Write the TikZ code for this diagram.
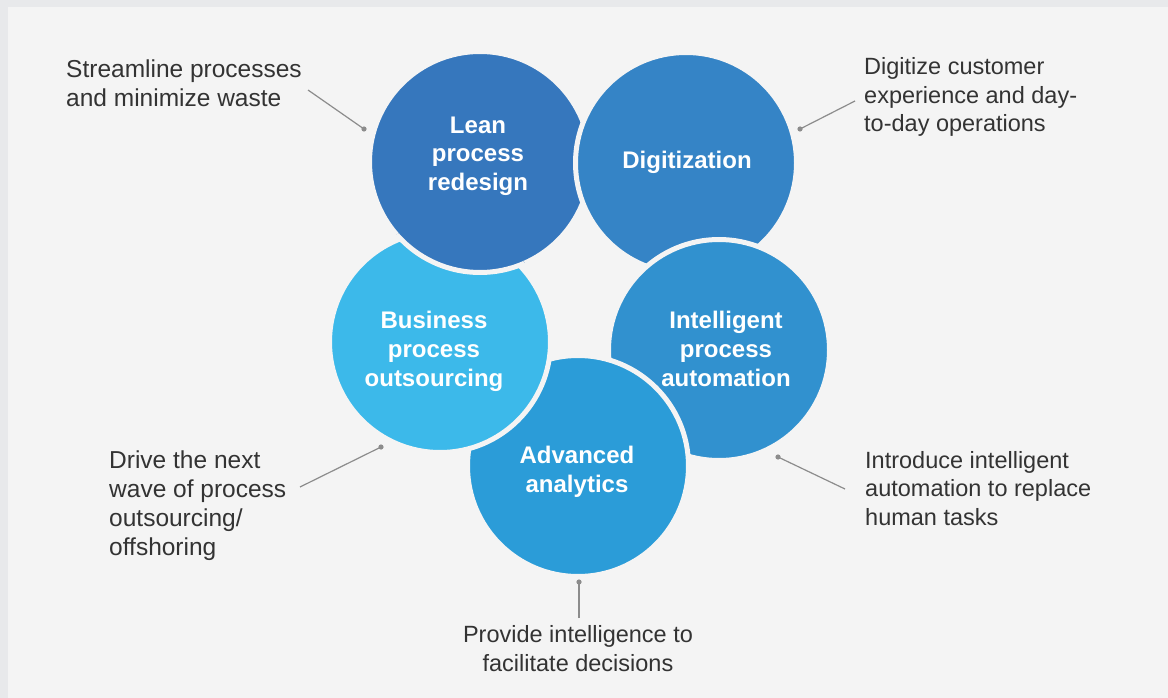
\documentclass[tikz,border=0pt]{standalone}
\usepackage{fontspec}
\setmainfont{Liberation Sans}
\definecolor{bgc}{HTML}{F4F4F4}
\definecolor{framec}{HTML}{E8E9EB}
\definecolor{leanc}{HTML}{3677BD}
\definecolor{digc}{HTML}{3584C6}
\definecolor{intc}{HTML}{3191CF}
\definecolor{advc}{HTML}{2B9CD8}
\definecolor{busc}{HTML}{3CB9EA}
\definecolor{txtc}{HTML}{333333}
\definecolor{leadc}{HTML}{8C8C8C}
\begin{document}
\begin{tikzpicture}[x=1pt,y=-1pt,
  circ/.style={circle, inner sep=0pt, outer sep=0pt, minimum size=221pt, draw=bgc, line width=5pt},
  ctext/.style={text=white, font=\fontsize{24}{29}\selectfont\bfseries, align=center, anchor=base, inner sep=0pt},
  lbl/.style={text=txtc, font=\fontsize{23.5}{28.5}\selectfont, inner sep=0pt},
  lblL/.style={text=txtc, font=\fontsize{24.5}{29}\selectfont, inner sep=0pt},
  leader/.style={draw=leadc, line width=1.2pt},
  dotc/.style={fill=leadc}
]
\useasboundingbox (0,0) rectangle (1168,698);
\fill[framec] (0,0) rectangle (1168,698);
\fill[bgc] (8,7) rectangle (1168,698);

% circles
\node[circ, fill=leanc] (lean) at (480,162) {};
\node[circ, fill=digc] (dig) at (686,163) {};
\node[circ, fill=intc] (int) at (719,350) {};
\node[circ, fill=advc] (adv) at (578,466) {};
\node[circ, fill=busc] (bus) at (440,342) {};
\begin{scope}
  \clip (bus.center) circle[radius=116pt];
  \node[circ, fill=leanc] (leantop) at (480,162) {};
\end{scope}

% circle texts (anchor = baseline of last line)
\node[ctext] (tlean) at (478,191) {Lean\\process\\redesign};
\node[ctext] (tdig) at (687,168) {Digitization};
\node[ctext] (tint) at (726,386) {Intelligent\\process\\automation};
\node[ctext] (tbus) at (434,386) {Business\\process\\outsourcing};
\node[ctext] (tadv) at (577,492) {Advanced\\analytics};

% labels (anchor = baseline of last line)
\node[lblL, anchor=base west, align=left] (l1) at (66,107) {Streamline processes\\and minimize waste};
\node[lbl, anchor=base west, align=left] (l2) at (864,132) {Digitize customer\\experience and day-\\to-day operations};
\node[lblL, anchor=base west, align=left] (l3) at (109,555) {Drive the next\\wave of process\\outsourcing/\\offshoring};
\node[lbl, anchor=base west, align=left] (l4) at (865,525) {Introduce intelligent\\automation to replace\\human tasks};
\node[lbl, anchor=base, align=center] (l5) at (578,671) {Provide intelligence to\\facilitate decisions};

% leaders
\coordinate (a1) at (308,90);  \coordinate (d1) at (364,129);
\coordinate (a2) at (855,101); \coordinate (d2) at (800,129);
\coordinate (a3) at (300,487); \coordinate (d3) at (381,447);
\coordinate (a4) at (845,489); \coordinate (d4) at (778,457);
\coordinate (a5) at (579,618); \coordinate (d5) at (579,582);
\foreach \i in {1,...,5}{
  \draw[leader] (a\i) -- (d\i);
  \fill[dotc] (d\i) circle[radius=2.6pt];
}
\end{tikzpicture}
\end{document}
